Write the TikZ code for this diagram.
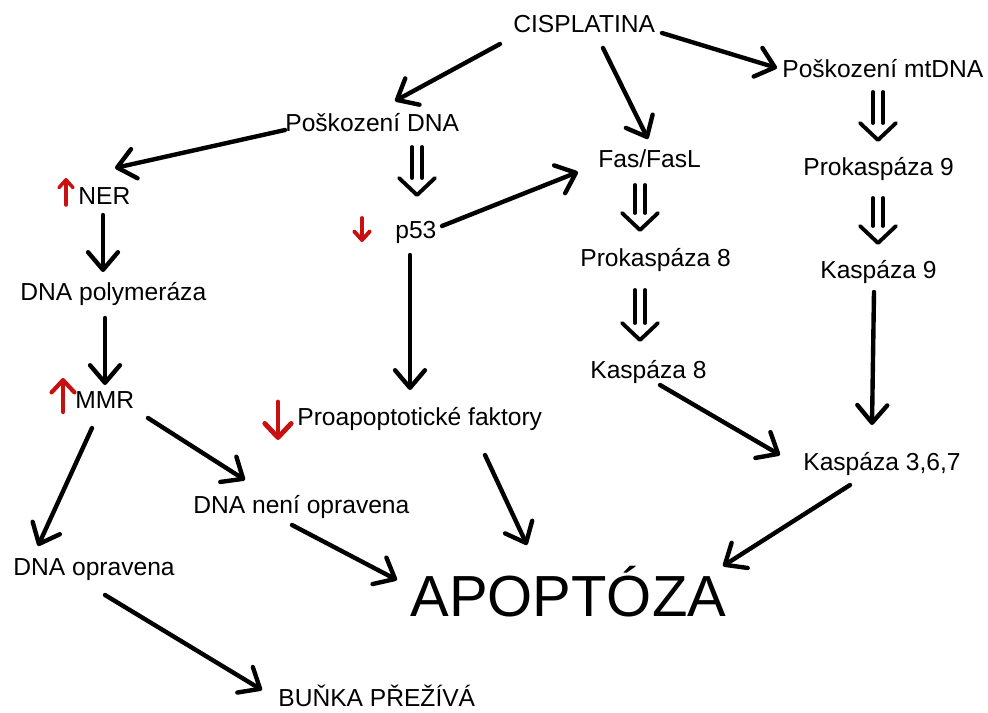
\documentclass[tikz,border=0pt]{standalone}
\usepackage{fontspec}
\setmainfont{Liberation Sans}
\usetikzlibrary{arrows.meta,calc}
\definecolor{redarr}{RGB}{200,16,16}
\newcommand\dblarr[2]{%
  \draw[dbl] ($(#1)+(-5,0)$) -- ($(#2)+(-5,-17)$);
  \draw[dbl] ($(#1)+(5,0)$) -- ($(#2)+(5,-17)$);
  \draw[dbl] ($(#2)+(-18,-17)$) -- (#2) -- ($(#2)+(18,-17)$);}
\begin{document}
\begin{tikzpicture}[x=0.02cm,y=-0.02cm,
  lbl/.style={anchor=base west,inner sep=0pt,font=\fontsize{14}{16}\selectfont},
  arr/.style={line width=2.5pt,line cap=round,-{Straight Barb[length=10pt,width=17pt,round]}},
  dbl/.style={line width=2.2pt,line cap=round,line join=round},
  rarr/.style={redarr,line width=#1,line cap=round}]
\useasboundingbox (0,0) rectangle (988,713);
% nodes
\node[lbl] (cis)   at (513,33)  {CISPLATINA};
\node[lbl] (pdna)  at (285,132) {Poškození DNA};
\node[lbl] (mtdna) at (782,78)  {Poškození mtDNA};
\node[lbl] (fas)   at (598,168) {Fas/FasL};
\node[lbl] (ner)   at (78,205)  {NER};
\node[lbl] (p53)   at (395,238) {p53};
\node[lbl] (prok8) at (580,266) {Prokaspáza 8};
\node[lbl] (prok9) at (803,175) {Prokaspáza 9};
\node[lbl] (k9)    at (820,278) {Kaspáza 9};
\node[lbl] (dnapol) at (20,300) {DNA polymeráza};
\node[lbl] (k8)    at (590,378) {Kaspáza 8};
\node[lbl] (mmr)   at (75,408)  {MMR};
\node[lbl] (proap) at (297,425) {Proapoptotické faktory};
\node[lbl] (k367)  at (803,470) {Kaspáza 3,6,7};
\node[lbl] (neni)  at (193,513) {DNA není opravena};
\node[lbl] (oprav) at (13,575)  {DNA opravena};
\node[lbl,font=\fontsize{33}{38}\selectfont] (apop) at (410,616) {APOPTÓZA};
\node[lbl] (bunka) at (278,706) {BUŇKA PŘEŽÍVÁ};
% single arrows
\draw[arr] ($(cis.base west)+(-13,11)$) -- ($(pdna.base west)+(110,-31)$);
\draw[arr] ($(cis.base west)+(90,15)$) -- ($(fas.base west)+(50,-29)$);
\draw[arr] ($(cis.base west)+(149,0)$) -- ($(mtdna.base west)+(-5,-10)$);
\draw[arr] ($(pdna.base west)+(0,-2)$) -- ($(ner.base west)+(37,-37)$);
\draw[arr] ($(p53.base west)+(47,-12)$) -- ($(fas.base west)+(-20,4)$);
\draw[arr] ($(ner.base west)+(25,10)$) -- ($(dnapol.base west)+(83,-28)$);
\draw[arr] ($(dnapol.base west)+(85,18)$) -- ($(mmr.base west)+(30,-23)$);
\draw[arr] ($(p53.base west)+(15,17)$) -- ($(proap.base west)+(113,-35)$);
\draw[arr] ($(k9.base west)+(54,14)$) -- ($(k367.base west)+(69,-45)$);
\draw[arr] ($(k8.base west)+(70,7)$) -- ($(k367.base west)+(-23,-15)$);
\draw[arr] ($(mmr.base west)+(73,10)$) -- ($(neni.base west)+(52,-33)$);
\draw[arr] ($(mmr.base west)+(17,20)$) -- ($(oprav.base west)+(25,-29)$);
\draw[arr] ($(proap.base west)+(188,30)$) -- ($(apop.base west)+(117,-71)$);
\draw[arr] ($(neni.base west)+(99,12)$) -- ($(apop.base west)+(-13,-36)$);
\draw[arr] ($(k367.base west)+(47,15)$) -- ($(apop.base west)+(313,-50)$);
\draw[arr] ($(oprav.base west)+(92,20)$) -- ($(bunka.base west)+(-16,-16)$);
% double arrows
\coordinate (d1a) at ($(pdna.base west)+(132,15)$);
\coordinate (d1b) at ($(p53.base west)+(22,-43)$);
\coordinate (d2a) at ($(fas.base west)+(42,17)$);
\coordinate (d2b) at ($(prok8.base west)+(60,-36)$);
\coordinate (d3a) at ($(prok8.base west)+(60,24)$);
\coordinate (d3b) at ($(k8.base west)+(50,-38)$);
\coordinate (d4a) at ($(mtdna.base west)+(96,14)$);
\coordinate (d4b) at ($(prok9.base west)+(75,-35)$);
\coordinate (d5a) at ($(prok9.base west)+(75,23)$);
\coordinate (d5b) at ($(k9.base west)+(58,-35)$);
\dblarr{d1a}{d1b}
\dblarr{d2a}{d2b}
\dblarr{d3a}{d3b}
\dblarr{d4a}{d4b}
\dblarr{d5a}{d5b}
% red arrows
\draw[rarr=2pt,-{Straight Barb[length=4.5pt,width=8pt,round]}] ($(ner.base west)+(-12,0)$) -- ($(ner.base west)+(-12,-27)$);
\draw[rarr=2.4pt,-{Straight Barb[length=7pt,width=13pt,round]}] ($(mmr.base west)+(-12,4)$) -- ($(mmr.base west)+(-12,-30)$);
\draw[rarr=2.2pt,-{Straight Barb[length=5pt,width=9pt,round]}] ($(p53.base west)+(-33,-20)$) -- ($(p53.base west)+(-33,4)$);
\draw[rarr=2.8pt,-{Straight Barb[length=8pt,width=15pt,round]}] ($(proap.base west)+(-19,-23)$) -- ($(proap.base west)+(-19,15)$);
\end{tikzpicture}
\end{document}
